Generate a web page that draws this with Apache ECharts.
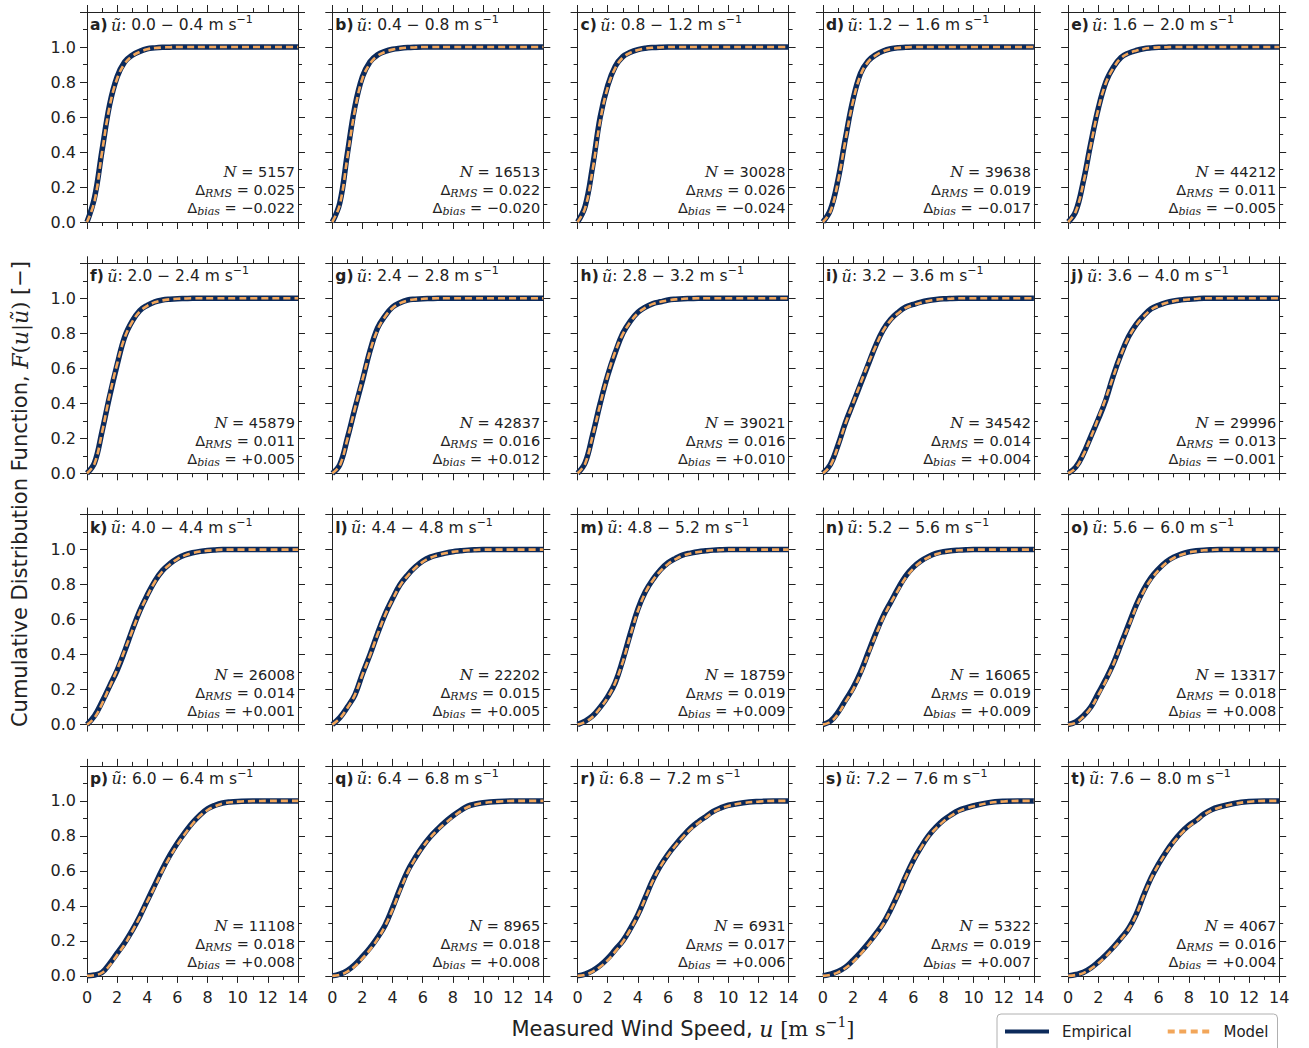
<!DOCTYPE html>
<html>
<head>
<meta charset="utf-8">
<script src="https://cdn.jsdelivr.net/npm/echarts@6.0.0/dist/echarts.min.js"></script>
<style>html,body{margin:0;padding:0;background:#fff}#c{width:1309px;height:1048px}</style>
</head>
<body>
<div id="c"></div>
<script>
// ---------------- DATA ----------------
const speedGrid = [0,0.5,1,1.5,2,2.5,3,3.5,4,4.5,5,5.5,6,6.5,7,7.5,8,8.5,9,9.5,10,11,12,13,14];
const panelLetters = ['a','b','c','d','e','f','g','h','i','j','k','l','m','n','o','p','q','r','s','t'];
const binLabels = ['0.0 − 0.4','0.4 − 0.8','0.8 − 1.2','1.2 − 1.6','1.6 − 2.0','2.0 − 2.4','2.4 − 2.8','2.8 − 3.2','3.2 − 3.6','3.6 − 4.0','4.0 − 4.4','4.4 − 4.8','4.8 − 5.2','5.2 − 5.6','5.6 − 6.0','6.0 − 6.4','6.4 − 6.8','6.8 − 7.2','7.2 − 7.6','7.6 − 8.0'];
const sampleCounts = [5157,16513,30028,39638,44212,45879,42837,39021,34542,29996,26008,22202,18759,16065,13317,11108,8965,6931,5322,4067];
const rmsErrors = ['0.025','0.022','0.026','0.019','0.011','0.011','0.016','0.016','0.014','0.013','0.014','0.015','0.019','0.019','0.018','0.018','0.018','0.017','0.019','0.016'];
const biasErrors = ['−0.022','−0.020','−0.024','−0.017','−0.005','+0.005','+0.012','+0.010','+0.004','−0.001','+0.001','+0.005','+0.009','+0.009','+0.008','+0.008','+0.008','+0.006','+0.007','+0.004'];
const xTicks = [0,2,4,6,8,10,12,14];
const yTicks = [0.0,0.2,0.4,0.6,0.8,1.0];

const empA = [0,0.14,0.41,0.67,0.83,0.915,0.953,0.975,0.99,0.995,0.998,0.999,1,1,1,1,1,1,1,1,1,1,1,1,1];
const modA = [0,0.12,0.40,0.66,0.82,0.905,0.948,0.972,0.987,0.994,0.997,0.999,1,1,1,1,1,1,1,1,1,1,1,1,1];
const empB = [0,0.11,0.39,0.66,0.83,0.915,0.955,0.975,0.987,0.993,0.997,0.999,1,1,1,1,1,1,1,1,1,1,1,1,1];
const modB = [0,0.10,0.37,0.64,0.82,0.905,0.95,0.972,0.985,0.992,0.996,0.998,1,1,1,1,1,1,1,1,1,1,1,1,1];
const empC = [0,0.09,0.32,0.60,0.78,0.89,0.945,0.97,0.985,0.993,0.997,0.999,1,1,1,1,1,1,1,1,1,1,1,1,1];
const modC = [0,0.08,0.30,0.58,0.77,0.88,0.94,0.967,0.983,0.992,0.996,0.998,1,1,1,1,1,1,1,1,1,1,1,1,1];
const empD = [0,0.07,0.24,0.48,0.70,0.85,0.92,0.955,0.977,0.99,0.996,0.998,1,1,1,1,1,1,1,1,1,1,1,1,1];
const modD = [0,0.06,0.23,0.47,0.69,0.84,0.915,0.952,0.975,0.988,0.995,0.998,1,1,1,1,1,1,1,1,1,1,1,1,1];
const empE = [0,0.06,0.23,0.45,0.65,0.80,0.885,0.94,0.965,0.98,0.99,0.995,0.998,0.999,1,1,1,1,1,1,1,1,1,1,1];
const modE = [0,0.06,0.22,0.44,0.645,0.795,0.88,0.937,0.964,0.979,0.989,0.995,0.998,0.999,1,1,1,1,1,1,1,1,1,1,1];
const empF = [0,0.06,0.24,0.44,0.62,0.78,0.87,0.93,0.96,0.98,0.99,0.995,0.998,0.999,1,1,1,1,1,1,1,1,1,1,1];
const modF = [0,0.055,0.235,0.445,0.625,0.775,0.865,0.925,0.957,0.977,0.988,0.994,0.997,0.999,1,1,1,1,1,1,1,1,1,1,1];
const empG = [0,0.05,0.20,0.37,0.53,0.70,0.83,0.90,0.95,0.975,0.99,0.995,0.998,0.999,1,1,1,1,1,1,1,1,1,1,1];
const modG = [0,0.045,0.195,0.37,0.535,0.695,0.82,0.895,0.945,0.972,0.987,0.994,0.997,0.999,1,1,1,1,1,1,1,1,1,1,1];
const empH = [0,0.06,0.22,0.40,0.56,0.69,0.80,0.87,0.92,0.95,0.97,0.98,0.99,0.995,0.998,0.999,1,1,1,1,1,1,1,1,1];
const modH = [0,0.055,0.215,0.395,0.56,0.695,0.795,0.865,0.915,0.947,0.968,0.98,0.988,0.994,0.997,0.999,1,1,1,1,1,1,1,1,1];
const empI = [0,0.05,0.16,0.29,0.40,0.51,0.62,0.73,0.82,0.88,0.92,0.95,0.965,0.978,0.987,0.993,0.997,0.999,1,1,1,1,1,1,1];
const modI = [0,0.045,0.155,0.285,0.40,0.515,0.625,0.725,0.815,0.875,0.915,0.945,0.962,0.975,0.985,0.992,0.996,0.998,1,1,1,1,1,1,1];
const empJ = [0,0.035,0.11,0.21,0.31,0.42,0.56,0.68,0.78,0.85,0.90,0.94,0.96,0.975,0.985,0.991,0.995,0.998,1,1,1,1,1,1,1];
const modJ = [0,0.03,0.105,0.205,0.315,0.43,0.555,0.675,0.775,0.845,0.895,0.935,0.957,0.973,0.984,0.99,0.994,0.997,1,1,1,1,1,1,1];
const empK = [0,0.05,0.13,0.22,0.31,0.42,0.54,0.65,0.74,0.82,0.88,0.92,0.95,0.97,0.982,0.99,0.995,0.998,1,1,1,1,1,1,1];
const modK = [0,0.04,0.12,0.215,0.315,0.425,0.535,0.645,0.735,0.815,0.875,0.915,0.946,0.967,0.98,0.989,0.994,0.997,1,1,1,1,1,1,1];
const empL = [0,0.04,0.10,0.17,0.29,0.40,0.52,0.63,0.72,0.80,0.855,0.90,0.935,0.957,0.97,0.98,0.988,0.993,0.997,0.999,1,1,1,1,1];
const modL = [0,0.035,0.095,0.17,0.285,0.395,0.515,0.625,0.715,0.795,0.85,0.895,0.93,0.953,0.968,0.979,0.987,0.992,0.996,0.998,1,1,1,1,1];
const empM = [0,0.02,0.05,0.10,0.16,0.24,0.37,0.52,0.66,0.76,0.83,0.885,0.925,0.95,0.97,0.98,0.988,0.993,0.997,0.999,1,1,1,1,1];
const modM = [0,0.015,0.045,0.095,0.155,0.24,0.36,0.51,0.65,0.755,0.825,0.878,0.918,0.945,0.966,0.978,0.986,0.992,0.996,0.998,1,1,1,1,1];
const empN = [0,0.02,0.07,0.14,0.21,0.30,0.41,0.52,0.62,0.70,0.78,0.85,0.90,0.935,0.96,0.978,0.988,0.994,0.997,0.999,1,1,1,1,1];
const modN = [0,0.015,0.06,0.13,0.20,0.29,0.40,0.51,0.61,0.695,0.77,0.84,0.892,0.93,0.955,0.973,0.985,0.992,0.996,0.998,1,1,1,1,1];
const empO = [0,0.015,0.05,0.10,0.18,0.26,0.35,0.46,0.57,0.68,0.77,0.84,0.89,0.93,0.957,0.975,0.987,0.993,0.997,0.999,1,1,1,1,1];
const modO = [0,0.01,0.045,0.095,0.17,0.25,0.345,0.455,0.56,0.67,0.76,0.83,0.882,0.924,0.952,0.971,0.984,0.991,0.996,0.998,1,1,1,1,1];
const empP = [0,0.005,0.02,0.07,0.13,0.19,0.26,0.34,0.43,0.52,0.61,0.69,0.76,0.82,0.875,0.92,0.955,0.975,0.988,0.994,0.997,1,1,1,1];
const modP = [0,0.004,0.018,0.06,0.12,0.18,0.255,0.335,0.425,0.51,0.60,0.68,0.75,0.812,0.868,0.915,0.948,0.97,0.985,0.992,0.996,0.999,1,1,1];
const empQ = [0,0.01,0.03,0.065,0.11,0.16,0.22,0.29,0.39,0.50,0.60,0.675,0.74,0.795,0.84,0.88,0.915,0.945,0.97,0.982,0.99,0.997,1,1,1];
const modQ = [0,0.006,0.025,0.055,0.10,0.15,0.21,0.285,0.38,0.49,0.59,0.67,0.735,0.79,0.835,0.873,0.908,0.94,0.965,0.979,0.988,0.996,1,1,1];
const empR = [0,0.01,0.03,0.06,0.10,0.15,0.20,0.27,0.35,0.45,0.55,0.63,0.695,0.75,0.80,0.845,0.88,0.91,0.94,0.96,0.975,0.99,0.997,1,1];
const modR = [0,0.006,0.025,0.052,0.09,0.14,0.195,0.265,0.345,0.445,0.545,0.625,0.69,0.745,0.795,0.838,0.873,0.905,0.935,0.956,0.971,0.988,0.996,1,1];
const empS = [0,0.01,0.025,0.05,0.09,0.135,0.185,0.24,0.30,0.38,0.47,0.57,0.66,0.735,0.80,0.85,0.89,0.92,0.945,0.96,0.972,0.99,0.998,1,1];
const modS = [0,0.006,0.02,0.045,0.08,0.125,0.175,0.233,0.295,0.375,0.465,0.565,0.655,0.73,0.795,0.843,0.883,0.915,0.94,0.957,0.969,0.988,0.997,1,1];
const empT = [0,0.008,0.02,0.045,0.08,0.12,0.165,0.215,0.27,0.35,0.46,0.56,0.64,0.71,0.77,0.82,0.86,0.89,0.925,0.95,0.965,0.985,0.996,1,1];
const modT = [0,0.005,0.016,0.04,0.072,0.112,0.158,0.208,0.265,0.345,0.455,0.555,0.635,0.705,0.763,0.813,0.853,0.886,0.92,0.945,0.961,0.983,0.995,1,1];

const empiricalSets = [empA,empB,empC,empD,empE,empF,empG,empH,empI,empJ,empK,empL,empM,empN,empO,empP,empQ,empR,empS,empT];
const modelSets = [modA,modB,modC,modD,modE,modF,modG,modH,modI,modJ,modK,modL,modM,modN,modO,modP,modQ,modR,modS,modT];

// ---------------- STYLE / LAYOUT ----------------
const SANS = "'DejaVu Sans', Verdana, sans-serif";
const SERIF = "'DejaVu Serif', serif";
const AX = '#222222';
const NAVY = '#0c2a5b';
const ORANGE = '#f2a65a';

const chart = echarts.init(document.getElementById('c'), null, {renderer: 'svg', width: 1309, height: 1048});

const grids = [], xAxes = [], yAxes = [], series = [], graphics = [];
const W = 211, H = 210;

for (let p = 0; p < 20; p++) {
  const r = Math.floor(p / 5), c = p % 5;
  const left = 87 + c * 245.3;
  const top = 12 + r * 251.3;
  grids.push({left: left, top: top, width: W, height: H});

  const line = {show: true, onZero: false, lineStyle: {color: AX, width: 1}};
  const tick = {show: true, inside: false, length: 7, lineStyle: {color: AX, width: 1}};
  const minor = {show: true, splitNumber: 2, length: 4, lineStyle: {color: AX, width: 1}};

  const xBase = {gridIndex: p, type: 'value', min: 0, max: 14, interval: 2,
    axisLine: line, axisTick: tick, minorTick: minor,
    splitLine: {show: false}, minorSplitLine: {show: false}};
  xAxes.push(Object.assign({}, xBase, {position: 'bottom',
    axisLabel: {show: r === 3, color: AX, fontFamily: SANS, fontSize: 16, margin: 14,
      showMinLabel: true, showMaxLabel: true,
      formatter: v => xTicks.indexOf(v) >= 0 ? String(v) : ''}}));
  xAxes.push(Object.assign({}, xBase, {position: 'top', axisLabel: {show: false}}));

  const yBase = {gridIndex: p, type: 'value', min: 0, max: 1.2, interval: 0.2,
    axisLine: line, axisTick: tick, minorTick: minor,
    splitLine: {show: false}, minorSplitLine: {show: false}};
  yAxes.push(Object.assign({}, yBase, {position: 'left',
    axisLabel: {show: c === 0, color: AX, fontFamily: SANS, fontSize: 16, margin: 11,
      formatter: v => yTicks.some(t => Math.abs(t - v) < 1e-6) ? v.toFixed(1) : ''}}));
  yAxes.push(Object.assign({}, yBase, {position: 'right', axisLabel: {show: false}}));

  series.push({
    type: 'line', name: 'Empirical', xAxisIndex: 2 * p, yAxisIndex: 2 * p,
    data: speedGrid.map((x, i) => [x, empiricalSets[p][i]]),
    symbol: 'none', showSymbol: false, smooth: 0.4,
    lineStyle: {color: NAVY, width: 5.5}, itemStyle: {color: NAVY}, z: 2, silent: true
  });
  series.push({
    type: 'line', name: 'Model', xAxisIndex: 2 * p, yAxisIndex: 2 * p,
    data: speedGrid.map((x, i) => [x, modelSets[p][i]]),
    symbol: 'none', showSymbol: false, smooth: 0.4,
    lineStyle: {color: ORANGE, width: 2.6, type: [7, 4]}, itemStyle: {color: ORANGE}, z: 3, silent: true
  });

  // panel title
  graphics.push({
    type: 'text', x: left + 3, y: top + 13, z: 10, silent: true,
    style: {
      text: '{b|' + panelLetters[p] + ')} {u|ũ}{t|: ' + binLabels[p] + ' m s}{sup|−1}',
      align: 'left', verticalAlign: 'middle', fill: AX,
      rich: {
        b: {fontFamily: SANS, fontWeight: 'bold', fontSize: 15.5, lineHeight: 22, fill: AX},
        u: {fontFamily: SERIF, fontStyle: 'italic', fontSize: 16, lineHeight: 22, fill: AX},
        t: {fontFamily: SANS, fontSize: 15.5, lineHeight: 22, fill: AX},
        sup: {fontFamily: SANS, fontSize: 11, lineHeight: 11, verticalAlign: 'top', fill: AX}
      }
    }
  });

  // annotation lines
  const rx = left + W - 3, by = top + H;
  const annRich = {
    i: {fontFamily: SERIF, fontStyle: 'italic', fontSize: 15, lineHeight: 18, fill: AX},
    t: {fontFamily: SANS, fontSize: 14.5, lineHeight: 18, fill: AX},
    s: {fontFamily: SERIF, fontStyle: 'italic', fontSize: 11, lineHeight: 10, verticalAlign: 'bottom', fill: AX}
  };
  graphics.push({type: 'text', x: rx, y: by - 50, z: 10, silent: true,
    style: {text: '{i|N}{t| = ' + sampleCounts[p] + '}', align: 'right', verticalAlign: 'middle', rich: annRich}});
  graphics.push({type: 'text', x: rx, y: by - 32, z: 10, silent: true,
    style: {text: '{t|Δ}{s|RMS}{t| = ' + rmsErrors[p] + '}', align: 'right', verticalAlign: 'middle', rich: annRich}});
  graphics.push({type: 'text', x: rx, y: by - 14, z: 10, silent: true,
    style: {text: '{t|Δ}{s|bias}{t| = ' + biasErrors[p] + '}', align: 'right', verticalAlign: 'middle', rich: annRich}});
}

// axis names
graphics.push({
  type: 'text', x: 683, y: 1029, z: 10, silent: true,
  style: {
    text: '{t|Measured Wind Speed, }{i|u}{r| [m s}{sup|−1}{r|]}',
    align: 'center', verticalAlign: 'middle',
    rich: {
      t: {fontFamily: SANS, fontSize: 21, lineHeight: 28, fill: AX},
      i: {fontFamily: SERIF, fontStyle: 'italic', fontSize: 22, lineHeight: 28, fill: AX},
      r: {fontFamily: SERIF, fontSize: 21, lineHeight: 28, fill: AX},
      sup: {fontFamily: SERIF, fontSize: 14, lineHeight: 16, verticalAlign: 'top', fill: AX}
    }
  }
});
graphics.push({
  type: 'text', x: 20, y: 494, rotation: Math.PI / 2, z: 10, silent: true,
  style: {
    text: '{t|Cumulative Distribution Function, }{i|F}{r|(}{i|u}{r||}{i|ũ}{r|)}{t| [−]}',
    align: 'center', verticalAlign: 'middle',
    rich: {
      t: {fontFamily: SANS, fontSize: 21, fill: AX},
      i: {fontFamily: SERIF, fontStyle: 'italic', fontSize: 22, fill: AX},
      r: {fontFamily: SERIF, fontSize: 21, fill: AX}
    }
  }
});

chart.setOption({
  animation: false,
  backgroundColor: '#ffffff',
  grid: grids,
  xAxis: xAxes,
  yAxis: yAxes,
  series: series,
  legend: {
    data: [
      {name: 'Empirical', icon: 'path://M0,0 L44,0 L44,4 L0,4 Z', itemStyle: {color: NAVY}},
      {name: 'Model', icon: 'path://M0,0 L7,0 L7,4 L0,4 Z M11.5,0 L18.5,0 L18.5,4 L11.5,4 Z M23,0 L30,0 L30,4 L23,4 Z M34.5,0 L41.5,0 L41.5,4 L34.5,4 Z', itemStyle: {color: ORANGE}}
    ],
    left: 997, top: 1014, orient: 'horizontal',
    itemWidth: 44, itemHeight: 4, itemGap: 36,
    padding: [10, 9, 16, 8],
    backgroundColor: '#ffffff', borderColor: '#b0b0b0', borderWidth: 1, borderRadius: 4,
    textStyle: {fontFamily: SANS, fontSize: 15, color: AX, padding: [0, 0, 0, 8]},
    selectedMode: false
  },
  graphic: graphics
});
</script>
</body>
</html>
